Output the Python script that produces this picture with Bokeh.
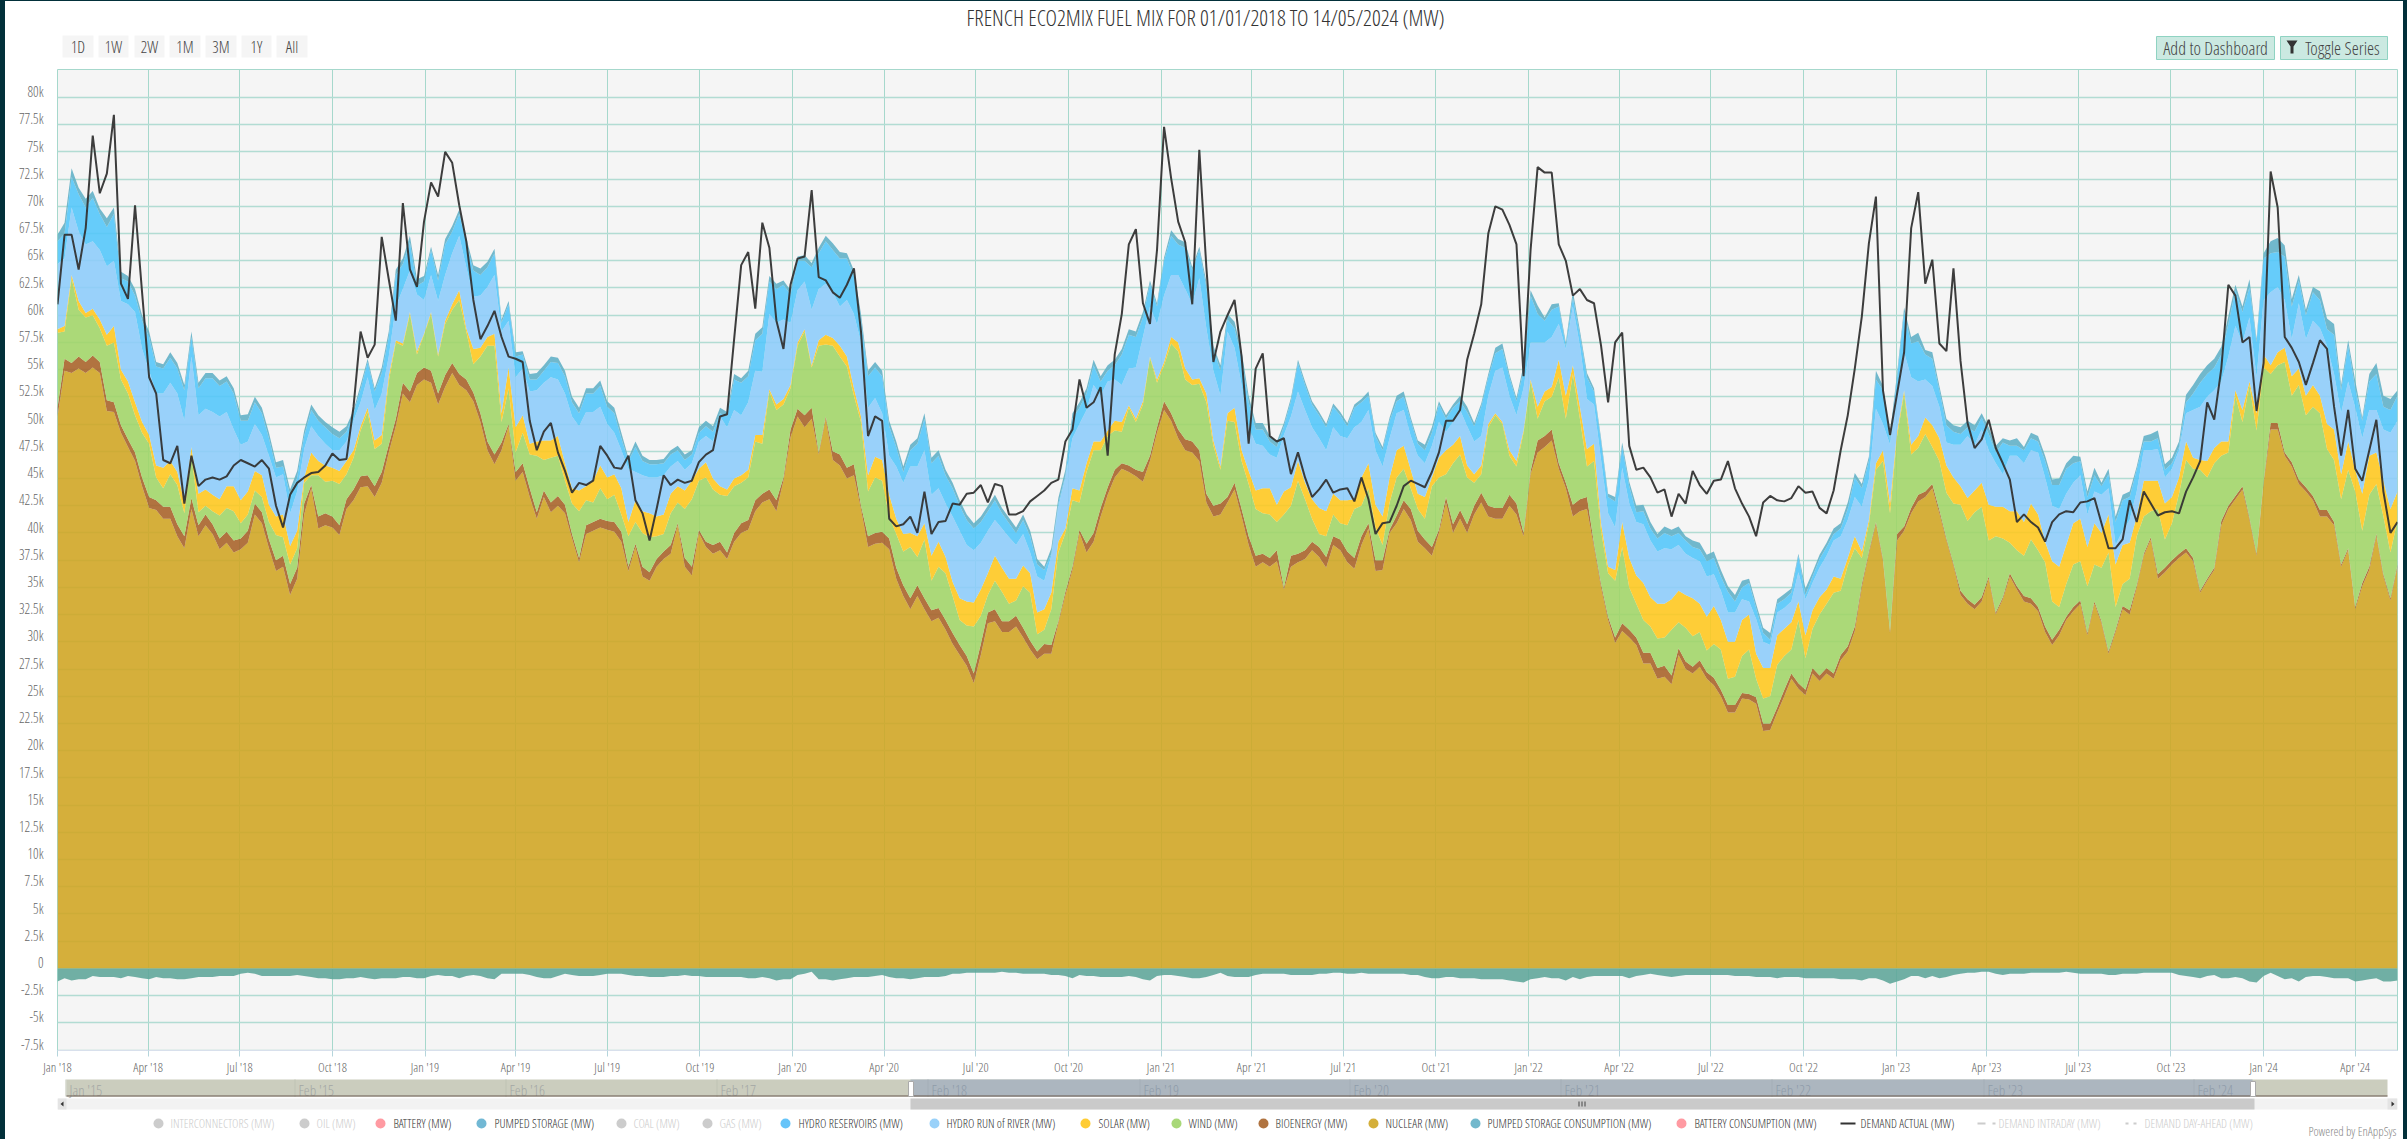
import numpy as np
import pandas as pd
from bokeh.plotting import figure
from bokeh.layouts import column
from bokeh.models import FixedTicker, Range1d
from bokeh.core.properties import value
from bokeh.embed import file_html
from bokeh.resources import INLINE

# all series are weekly readings in hundreds of MW
nuclear = [
507,549,547,551,547,552,547,512,511,492,479,466,443,423,421,413,413,397,386,422,397,407,399,385,391,382,385,391,417,409,386,365,369,343,358,417,441,404,407,405,398,422,430,442,443,433,446,474,498,528,520,536,541,538,518,534,
547,536,531,521,502,476,463,476,498,448,456,433,413,433,419,425,418,395,373,399,402,405,403,401,392,365,387,360,356,369,376,381,407,369,361,400,387,381,384,376,392,400,403,420,428,431,420,448,488,507,497,505,472,505,467,462,
450,453,422,387,390,391,385,358,342,330,342,330,319,322,311,298,288,278,262,288,317,319,309,309,314,304,293,284,289,289,317,343,366,400,382,392,415,435,451,459,456,452,447,466,492,513,503,487,476,474,466,428,415,417,428,
440,415,389,369,373,369,374,348,369,373,376,384,378,368,389,384,373,367,389,404,365,366,400,409,422,412,392,386,379,400,428,400,413,400,417,428,415,413,413,425,417,397,454,474,479,485,459,441,415,420,422,387,350,320,299,
310,304,297,280,280,266,268,261,288,275,271,277,266,260,250,235,235,248,247,243,218,219,235,250,266,257,251,271,264,271,266,283,291,310,350,381,408,374,308,393,402,418,429,433,441,418,393,370,343,335,330,337,358,325,339,
360,348,337,335,328,309,297,306,320,328,335,306,335,317,289,309,330,325,350,379,394,358,364,371,377,382,374,345,356,366,407,422,431,440,412,379,445,495,495,471,461,445,438,430,415,415,407,369,384,330,351,366,397,360,338,369]
bioenergy = [
8,11,9,11,10,11,10,10,9,7,7,8,8,10,9,11,11,11,11,10,10,10,9,10,10,11,10,11,10,10,8,10,10,10,10,10,3,11,11,10,9,9,10,10,10,10,10,7,7,10,10,11,11,11,10,11,
9,10,10,8,8,8,9,7,2,8,8,8,6,6,9,9,8,4,4,8,8,8,8,9,9,4,3,9,8,7,7,8,2,8,8,3,5,8,8,6,8,9,9,10,8,9,10,3,7,7,11,10,2,2,8,10,
10,10,3,10,10,10,10,10,10,10,10,10,10,9,9,10,9,9,9,10,10,11,10,10,10,9,8,7,9,8,2,3,3,3,8,8,8,7,7,5,6,6,9,5,5,8,7,8,10,10,10,8,10,10,5,
6,7,8,10,8,8,10,2,10,8,8,8,9,10,8,10,10,10,8,5,10,9,3,7,8,10,10,8,8,3,5,8,8,8,8,9,10,10,10,10,10,3,3,11,10,10,5,5,11,11,11,3,3,3,5,
7,7,7,10,10,10,10,8,6,7,6,6,6,7,6,7,7,5,5,6,7,6,5,6,5,5,5,5,5,5,5,5,5,4,3,2,2,2,2,6,4,5,6,5,4,3,2,2,4,4,4,4,2,2,2,
3,3,5,5,4,5,5,5,3,4,3,2,2,2,2,2,3,4,2,2,2,4,4,4,4,4,3,2,2,2,4,3,3,3,2,2,2,6,6,3,4,4,4,4,6,6,3,2,2,2,3,3,2,2,2,2]
wind_top = [
584,585,634,605,598,600,588,572,575,541,528,508,492,482,451,441,454,444,418,471,419,425,420,416,423,420,409,417,439,433,410,398,396,371,386,446,453,453,447,448,445,454,469,494,511,477,482,539,575,572,601,564,582,601,562,592,
605,614,585,555,562,572,572,502,533,474,492,472,471,467,469,471,448,427,420,430,428,441,431,435,417,397,410,400,396,397,399,418,428,422,431,448,451,440,435,434,443,446,451,484,482,530,513,518,533,572,585,552,572,573,572,562,
553,526,502,438,451,448,415,399,383,387,378,394,356,369,363,342,320,315,314,324,343,356,346,335,338,351,345,307,311,330,382,400,430,428,456,476,476,489,494,493,515,502,518,561,538,554,574,567,541,536,537,520,480,458,503,
502,466,445,422,418,417,410,417,425,448,431,413,399,397,417,409,407,422,425,441,405,389,428,451,459,441,422,413,443,451,454,464,472,451,446,454,497,508,500,471,461,492,539,505,521,525,543,505,546,505,461,466,402,363,356,
387,350,335,320,314,303,304,311,318,313,305,309,292,298,293,266,268,287,293,266,248,250,279,287,293,320,285,312,325,335,345,347,370,386,377,408,458,466,418,489,528,472,478,491,479,466,437,427,426,411,419,424,393,397,395,
391,384,379,394,384,373,337,332,353,371,374,351,371,368,382,332,353,358,397,415,420,422,394,409,436,467,459,458,451,464,471,474,526,502,536,494,552,546,554,557,526,536,508,516,510,477,467,431,458,438,402,435,445,415,382,412]
solar_top = [
587,590,637,613,602,606,596,582,590,550,539,520,502,490,462,460,466,456,428,479,436,440,435,431,443,443,430,438,457,453,426,415,417,388,402,451,474,466,462,460,457,466,476,498,515,485,490,544,577,574,603,567,583,603,564,595,
610,623,588,569,570,580,583,510,552,497,508,482,484,485,485,489,464,441,439,443,448,462,451,454,441,410,430,420,418,415,417,436,443,439,448,459,465,450,443,440,450,453,458,490,490,532,518,523,536,575,587,554,577,582,579,572,
562,533,507,453,470,467,435,413,399,400,397,409,379,392,378,355,340,337,336,348,363,379,368,358,358,370,363,327,330,345,392,404,441,439,464,484,484,494,503,502,517,505,521,562,541,557,580,575,551,541,542,528,485,461,510,
515,476,457,439,441,441,426,438,442,466,446,431,423,420,436,430,430,431,451,464,426,415,451,476,480,458,436,433,451,469,476,481,489,462,454,462,500,510,502,476,466,494,541,516,530,534,559,526,554,516,477,482,409,369,366,
410,377,361,354,341,335,335,339,347,343,340,335,323,333,320,300,300,320,325,289,276,276,306,312,318,337,306,329,341,348,360,358,377,397,383,412,464,476,427,493,531,481,489,506,499,487,462,451,443,432,439,446,426,424,424,
420,420,410,427,417,392,374,369,389,409,413,387,409,400,417,371,389,391,415,448,448,448,427,433,451,484,469,467,466,478,484,484,531,513,539,510,564,554,566,570,544,551,526,536,526,500,495,454,484,458,436,471,474,448,422,438]
hydro_ror_top = [
647,652,699,677,665,668,660,645,650,613,610,603,569,549,528,528,538,528,503,562,508,514,511,507,511,495,481,484,500,490,471,451,454,418,438,477,498,489,482,476,476,484,503,520,543,513,528,562,608,624,641,619,614,637,613,637,
657,673,644,617,618,626,637,585,595,543,551,530,531,538,543,541,528,507,498,511,511,516,500,492,476,459,456,453,451,451,453,461,466,458,464,484,489,484,507,497,513,508,520,549,548,601,593,596,593,623,631,605,624,629,621,608,
614,601,575,515,524,510,471,461,446,461,461,476,435,441,427,415,402,389,384,391,402,412,404,396,389,399,382,360,356,379,424,451,487,500,513,536,526,539,541,536,551,552,580,608,592,618,637,637,624,610,634,588,549,526,585,
570,536,497,482,480,472,469,490,507,530,513,497,487,476,497,489,487,497,502,513,476,461,487,510,513,489,471,464,480,502,493,502,513,498,484,489,526,549,552,526,508,533,575,575,575,580,592,569,608,572,523,518,467,418,405,
460,427,410,408,393,383,386,385,389,381,377,374,360,362,347,327,327,339,337,321,300,297,327,331,337,364,339,354,368,379,393,397,412,433,424,449,514,500,481,531,566,543,539,541,535,516,483,481,481,489,481,495,476,464,454,
471,471,464,476,474,451,425,422,436,446,453,417,438,435,441,389,402,412,438,476,476,477,451,459,476,510,513,516,525,531,539,562,590,575,598,543,614,621,626,614,578,611,578,595,588,572,546,510,539,515,487,513,513,495,492,503]
hydro_res_top = [
668,675,727,711,699,708,693,681,693,634,631,618,595,580,553,551,561,551,531,580,533,542,542,535,539,528,503,503,520,510,487,460,461,435,451,489,513,503,497,491,487,493,510,532,557,530,547,580,637,647,667,627,631,660,632,665,
677,693,667,641,637,644,657,593,610,562,564,541,541,549,557,556,544,520,510,528,528,535,516,510,487,466,479,466,463,463,464,472,476,467,472,492,498,493,510,507,541,538,544,577,583,631,624,628,619,650,650,644,657,668,660,652,
652,636,596,544,552,544,498,479,456,476,482,505,464,471,453,441,425,412,404,410,420,430,418,409,400,412,397,371,366,381,427,453,505,515,528,554,539,549,554,564,582,580,598,629,608,650,673,665,662,641,660,626,569,549,596,
588,561,520,495,495,484,479,498,521,556,536,518,508,497,516,508,498,515,520,526,489,476,503,521,525,503,482,476,492,518,505,515,521,511,498,516,543,565,569,543,521,549,618,601,595,605,608,572,616,582,543,530,484,433,429,
479,443,419,420,404,395,400,397,400,393,387,385,374,377,360,346,337,350,354,331,308,302,335,339,345,379,343,360,376,387,399,404,422,451,441,466,541,531,485,543,603,574,576,564,560,531,499,493,491,497,493,506,491,474,483,
480,480,476,487,484,466,444,444,459,464,466,433,453,443,454,410,430,433,458,484,484,487,458,464,479,520,528,538,546,552,564,592,623,603,626,575,652,657,658,654,608,632,600,621,614,587,582,531,572,533,503,539,546,516,513,526]
pumped_storage = [
6,10,8,6,8,6,5,8,6,6,5,6,5,5,4,4,5,5,5,5,5,5,5,5,5,5,5,6,5,5,5,5,6,5,6,5,5,5,5,6,6,5,3,4,3,3,5,5,5,5,6,6,5,3,5,5,
5,4,4,5,6,5,4,3,3,4,3,5,6,5,5,5,5,5,5,5,5,5,5,5,5,3,5,5,4,4,4,4,4,5,4,5,5,5,5,4,5,4,5,6,6,5,5,4,4,4,5,4,5,5,6,6,
5,5,5,5,5,5,5,5,5,5,5,5,5,5,5,5,5,5,5,5,5,5,5,5,5,5,5,5,3,5,5,5,5,5,5,5,5,5,5,5,5,5,5,3,3,3,5,5,5,3,3,5,3,5,5,
6,6,6,6,6,5,5,3,3,3,3,3,3,3,3,3,3,3,3,4,3,3,3,5,5,3,3,5,5,3,3,3,5,5,3,3,3,5,5,3,3,5,5,8,3,5,3,3,6,4,4,3,3,3,4,
4,4,6,6,6,4,6,6,6,4,6,6,6,6,6,5,6,6,4,4,5,6,4,5,4,2,6,4,4,4,5,5,6,4,4,4,8,4,6,4,4,6,8,4,6,4,6,6,6,6,6,4,6,6,4,
5,7,3,5,5,5,5,6,5,7,4,5,7,3,5,5,5,5,3,5,7,7,5,5,5,7,8,8,8,8,7,7,5,5,7,3,5,11,13,10,7,5,5,5,8,10,10,5,5,7,3,7,10,10,10,5]
pumped_consumption = [
-12,-9,-11,-10,-10,-7,-8,-8,-8,-9,-7,-8,-9,-10,-8,-9,-9,-10,-10,-9,-8,-8,-8,-7,-7,-7,-5,-4,-5,-7,-7,-7,-7,-7,-6,-7,-8,-9,-9,-10,-10,-9,-9,-8,-9,-10,-9,-9,-9,-8,-8,-9,-9,-7,-6,-7,
-7,-9,-7,-6,-7,-9,-10,-5,-5,-5,-5,-6,-8,-9,-9,-7,-5,-6,-7,-7,-7,-6,-5,-5,-5,-6,-7,-7,-8,-8,-8,-7,-7,-6,-7,-7,-8,-8,-8,-8,-8,-8,-9,-9,-8,-9,-11,-10,-10,-6,-5,-3,-10,-10,-11,-10,
-9,-8,-8,-8,-7,-6,-8,-9,-9,-10,-9,-8,-8,-8,-7,-5,-5,-4,-4,-4,-4,-4,-3,-4,-4,-5,-5,-5,-5,-6,-6,-7,-9,-6,-7,-7,-8,-8,-8,-8,-7,-8,-10,-11,-7,-6,-6,-7,-8,-9,-9,-8,-6,-4,-7,
-8,-8,-8,-6,-5,-5,-5,-5,-6,-6,-6,-6,-5,-5,-4,-4,-5,-5,-4,-5,-5,-5,-5,-5,-5,-6,-6,-8,-9,-9,-8,-8,-9,-9,-9,-10,-10,-10,-10,-11,-12,-13,-10,-9,-8,-9,-9,-11,-8,-10,-8,-7,-7,-7,-7,
-7,-9,-7,-6,-5,-6,-7,-8,-7,-6,-6,-6,-6,-6,-6,-6,-7,-7,-7,-8,-8,-8,-9,-8,-8,-8,-9,-9,-9,-9,-9,-10,-10,-10,-11,-9,-9,-11,-14,-12,-10,-7,-7,-9,-7,-9,-8,-6,-5,-4,-4,-3,-3,-5,-6,
-5,-5,-5,-4,-4,-4,-4,-4,-3,-4,-5,-5,-5,-5,-6,-6,-5,-5,-5,-4,-4,-4,-4,-4,-6,-7,-8,-9,-7,-6,-9,-9,-8,-9,-12,-13,-7,-4,-7,-10,-9,-12,-8,-7,-7,-8,-9,-9,-9,-12,-11,-10,-9,-12,-12,-11]
demand_actual = [
610,674,674,642,680,765,712,730,784,629,615,701,621,543,528,467,464,480,427,471,443,449,451,449,452,462,467,464,461,467,459,425,405,435,446,451,455,456,462,473,467,468,516,585,561,573,672,633,595,703,642,626,686,722,709,750,
740,701,668,614,578,590,604,580,562,560,557,503,476,493,501,474,457,437,446,444,448,480,471,460,459,471,430,418,393,422,453,444,449,446,448,465,472,476,507,509,578,646,658,606,685,662,595,569,628,652,654,715,635,632,621,616,
628,643,585,489,507,503,413,406,408,415,400,438,399,410,411,427,426,436,437,444,428,445,443,417,417,420,429,434,439,446,449,484,495,541,515,520,534,471,564,601,665,679,611,592,660,773,726,686,667,610,752,644,557,585,600,
614,562,482,551,565,489,484,487,454,474,451,433,440,449,437,440,441,429,451,431,399,409,410,425,443,448,445,442,456,474,503,503,513,559,583,610,675,700,697,683,665,544,660,736,731,731,665,650,618,624,614,611,572,520,575,
584,480,458,460,451,437,440,415,436,427,457,444,436,448,449,466,441,427,415,397,428,434,430,429,432,443,437,438,423,418,439,476,508,551,599,666,709,531,490,528,566,680,713,629,651,574,567,643,558,501,478,486,504,478,464,
449,410,417,410,405,392,410,417,420,419,428,429,432,409,386,386,394,430,410,438,427,416,419,420,418,438,451,466,520,504,551,628,618,575,580,512,556,732,699,580,570,557,536,556,577,569,516,471,513,459,448,476,504,438,400,410]

y_tick_labels = ["-7.5k","-5k","-2.5k","0","2.5k","5k","7.5k","10k","12.5k","15k","17.5k","20k","22.5k","25k","27.5k","30k",
                 "32.5k","35k","37.5k","40k","42.5k","45k","47.5k","50k","52.5k","55k","57.5k","60k","62.5k","65k","67.5k","70k",
                 "72.5k","75k","77.5k","80k"]
legend_names = ["INTERCONNECTORS (MW)","OIL (MW)","BATTERY (MW)","PUMPED STORAGE (MW)","COAL (MW)","GAS (MW)","HYDRO RESERVOIRS (MW)",
                "HYDRO RUN of RIVER (MW)","SOLAR (MW)","WIND (MW)","BIOENERGY (MW)","NUCLEAR (MW)","PUMPED STORAGE CONSUMPTION (MW)",
                "BATTERY CONSUMPTION (MW)","DEMAND ACTUAL (MW)","DEMAND INTRADAY (MW)","DEMAND DAY-AHEAD (MW)"]
range_buttons = ["1D","1W","2W","1M","3M","1Y","All"]
navigator_labels = ["Jan '15","Feb '15","Feb '16","Feb '17","Feb '18","Feb '19","Feb '20","Feb '21","Feb '22","Feb '23","Feb '24"]

lengths = {k: len(v) for k, v in dict(nuclear=nuclear, bioenergy=bioenergy, wind_top=wind_top, solar_top=solar_top, ror=hydro_ror_top,
           res=hydro_res_top, pumped=pumped_storage, cons=pumped_consumption, demand=demand_actual).items()}
if set(lengths.values()) != {333}:
    raise ValueError(str(lengths))

FONT = "Open Sans Condensed Light, Open Sans Condensed, Roboto"
PAGE_W, TOP_H, MAIN_H, BOT_H = 2407, 68, 1010, 61
FRAME_L, FRAME_R = 57, 2397
weeks = pd.date_range("2018-01-01", periods=333, freq="7D")
to_mw = lambda a: np.array(a, dtype=float) * 100.0
n0 = to_mw(nuclear)
b0 = n0 + to_mw(bioenergy)
w0 = np.maximum(to_mw(wind_top), b0)
s0 = np.maximum(to_mw(solar_top), w0)
r0 = np.maximum(to_mw(hydro_ror_top), s0)
h0 = np.maximum(to_mw(hydro_res_top), r0)
t0 = h0 + to_mw(pumped_storage)
c0 = to_mw(pumped_consumption)
d0 = to_mw(demand_actual)

p = figure(width=PAGE_W, height=MAIN_H, output_backend="svg", toolbar_location=None, x_axis_type="datetime",
           x_range=Range1d(weeks[0], weeks[-1]), y_range=Range1d(-7540, 82570),
           min_border_left=FRAME_L, min_border_right=PAGE_W - FRAME_R, min_border_top=1, min_border_bottom=26,
           background_fill_color="#f5f5f5", border_fill_color=None)
p.outline_line_color = "#a6d8cc"
p.outline_line_width = 1

y_ticks = [i * 2500 - 7500 for i in range(len(y_tick_labels))]
# the labels sit about six pixels above their grid lines
y_label_ticks = [t + 540 for t in y_ticks]
p.yaxis.ticker = FixedTicker(ticks=y_label_ticks)
p.yaxis.major_label_overrides = {float(t): l for t, l in zip(y_label_ticks, y_tick_labels)}
p.yaxis.axis_line_color = None
p.yaxis.major_tick_line_color = None
p.yaxis.minor_tick_line_color = None
p.yaxis.major_tick_out = 0
p.yaxis.major_tick_in = 0
p.yaxis.major_label_text_font = FONT
p.yaxis.major_label_text_font_size = "14px"
p.yaxis.major_label_text_color = "#666666"
p.yaxis.major_label_standoff = 14

x_tick_dates = pd.date_range("2018-01-01", "2024-04-01", freq="QS")
x_ticks = [d.timestamp() * 1000 for d in x_tick_dates]
p.xaxis.ticker = FixedTicker(ticks=x_ticks)
p.xaxis.major_label_overrides = {t: d.strftime("%b '%y") for t, d in zip(x_ticks, x_tick_dates)}
p.xaxis.axis_line_color = "#d8e0ec"
p.xaxis.major_tick_line_color = "#b5d5dc"
p.xaxis.major_tick_out = 6
p.xaxis.major_tick_in = 0
p.xaxis.minor_tick_line_color = None
p.xaxis.major_label_text_font = FONT
p.xaxis.major_label_text_font_size = "13px"
p.xaxis.major_label_text_color = "#666666"
p.xaxis.major_label_standoff = 1

p.xgrid.ticker = FixedTicker(ticks=x_ticks)
p.ygrid.ticker = FixedTicker(ticks=y_ticks)
p.xgrid.grid_line_color = "#a6d8cc"
p.xgrid.grid_line_width = 1
p.ygrid.grid_line_color = "#b2dcd3"
p.ygrid.grid_line_width = 1.5

A = 0.88
zeros = np.zeros(len(weeks))
for lo, hi, col in [(zeros, n0, "#D0A521"), (n0, b0, "#A76127"), (b0, w0, "#A0D567"), (w0, s0, "#FFC71D"),
                    (s0, r0, "#8CCCFA"), (r0, h0, "#52C6FA"), (h0, t0, "#5FAFC6"), (c0, zeros, "#5DA598")]:
    p.varea(x=weeks, y1=lo, y2=hi, fill_color=col, fill_alpha=A)
p.line(x=weeks, y=d0, line_color="#333333", line_width=2, line_alpha=0.95)


def strip(y0, y1):
    # frames in a column line up with the main plot's frame, so the strip's x range is in page pixels
    f = figure(width=PAGE_W, height=y1 - y0, output_backend="svg", toolbar_location=None,
               x_range=Range1d(FRAME_L, FRAME_R), y_range=Range1d(y1, y0), min_border=0,
               background_fill_color=None, border_fill_color=None)
    f.axis.visible = False
    f.grid.visible = False
    f.outline_line_color = None
    return f


def box(f, l, t, r, b, fill, line=None):
    f.quad(left=[l], right=[r], top=[t], bottom=[b], fill_color=fill, line_color=line)


def text(f, x, y, s, color="#444444", size=12, align="left"):
    f.text(x=[x], y=[y], text=[s], text_color=color, text_font=value(FONT), text_font_size=f"{size}px",
           text_align=align, text_baseline="middle")


# header strip
top = strip(0, TOP_H)
text(top, 1205, 16, "FRENCH ECO2MIX FUEL MIX FOR 01/01/2018 TO 14/05/2024 (MW)", color="#333333", size=22, align="center")
for (l, r), s in zip([(62, 93), (98, 128), (134, 164), (169, 200), (205, 236), (241, 271), (276, 307)], range_buttons):
    box(top, l, 35, r, 57, "#f5f5f5")
    text(top, (l + r) / 2, 46, s, align="center", size=16)
box(top, 2156, 36, 2274, 59, "#cbe9e1", "#8fd3c2")
text(top, 2215, 47, "Add to Dashboard", align="center", size=18)
box(top, 2280, 36, 2387, 59, "#cbe9e1", "#8fd3c2")
top.patch(x=[2286, 2297, 2293, 2293, 2290, 2290], y=[40, 40, 46, 53, 53, 46], fill_color="#333333", line_color=None)
text(top, 2342, 47, "Toggle Series", align="center", size=18)

# navigator, scrollbar and legend strip
bot = strip(TOP_H + MAIN_H, TOP_H + MAIN_H + BOT_H)
box(bot, 66, 1079, 2387, 1096, "#cbcdbe")
box(bot, 910, 1079, 2252, 1096, "#acb6bf")
for x, s in zip([69, 298, 509, 720, 931, 1143, 1353, 1564, 1775, 1987, 2197], navigator_labels):
    box(bot, x - 4, 1079, x - 3, 1096, "#c0c3b4" if x < 910 else "#a4aeb8")
    text(bot, x, 1089, s, color="#a3a7a5" if x < 910 else "#8f9caa", size=15)
box(bot, 66, 1095, 2387, 1096, "#6b5a50")
box(bot, 57, 1098, 2397, 1109, "#f2f2f2")
box(bot, 910, 1098, 2254, 1109, "#cacaca")
box(bot, 908, 1081, 913, 1096, "#ffffff", "#aaaaaa")
box(bot, 2250, 1081, 2255, 1096, "#ffffff", "#aaaaaa")
box(bot, 57, 1098, 66, 1109, "#e4e4e4")
bot.patch(x=[63, 60, 63], y=[1101, 1103.5, 1106], fill_color="#333333", line_color=None)
box(bot, 2387, 1098, 2397, 1109, "#e4e4e4")
bot.patch(x=[2391, 2394, 2391], y=[1101, 1103.5, 1106], fill_color="#333333", line_color=None)
for gx in (1578, 1581, 1584):
    box(bot, gx, 1101, gx + 1, 1106, "#444444")

dots = [158, 304, 380, 481, 621, 707, 785, 934, 1085, 1176, 1263, 1373, 1475, 1681]
txts = [170, 316, 393, 494, 633, 719, 798, 946, 1098, 1188, 1275, 1385, 1487, 1694]
cols = ["#cccccc", "#cccccc", "#ff9aa2", "#72b8d4", "#cccccc", "#cccccc", "#66c4f9", "#99d1f9", "#ffcc33", "#a8d878",
        "#b07340", "#d4af3a", "#72b8cc", "#ff9aa2"]
hidden = {0, 1, 4, 5}
LEG = 12.3
for i, (dx, tx, c, s) in enumerate(zip(dots, txts, cols, legend_names)):
    bot.scatter(x=[dx], y=[1123], size=10, marker="circle", fill_color=c, line_color=None)
    text(bot, tx, 1123, s, color="#cccccc" if i in hidden else "#333333", size=LEG)
box(bot, 1840, 1122, 1855, 1124, "#333333")
text(bot, 1860, 1123, legend_names[14], color="#333333", size=LEG)
box(bot, 1977, 1122, 1985, 1124, "#cccccc")
box(bot, 1992, 1122, 1995, 1124, "#cccccc")
text(bot, 1998, 1123, legend_names[15], color="#cccccc", size=LEG)
box(bot, 2125, 1122, 2128, 1124, "#cccccc")
box(bot, 2133, 1122, 2136, 1124, "#cccccc")
text(bot, 2144, 1123, legend_names[16], color="#cccccc", size=LEG)
text(bot, 2396, 1131, "Powered by EnAppSys", color="#888888", size=12.5, align="right")

page = column(top, p, bot, spacing=0)
html = file_html(page, INLINE, title="French Eco2mix fuel mix")
html = html.replace("</head>", "<style>html{background:linear-gradient(to right,#02303a 5px,transparent 5px),"
                    "linear-gradient(to left,#02303a 4px,transparent 4px),"
                    "linear-gradient(to bottom,#02303a 1px,#ffffff 1px)}</style></head>", 1)
open("out.html", "w").write(html)
